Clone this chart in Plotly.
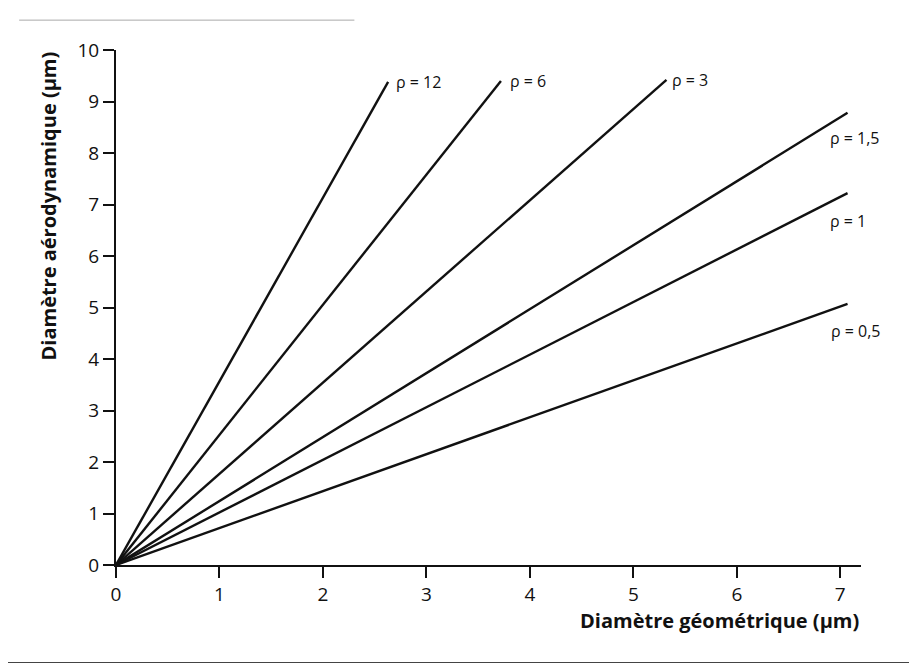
import plotly.graph_objects as go

# Data: each line runs from the origin to its end point
rho_labels = ["ρ = 12", "ρ = 6", "ρ = 3", "ρ = 1,5", "ρ = 1", "ρ = 0,5"]
x_start = [0, 0, 0, 0, 0, 0]
y_start = [0, 0, 0, 0, 0, 0]
x_end = [2.63, 3.72, 5.32, 7.07, 7.07, 7.07]
y_end = [9.38, 9.40, 9.42, 8.78, 7.22, 5.07]

x_ticks = [0, 1, 2, 3, 4, 5, 6, 7]
y_ticks = [0, 1, 2, 3, 4, 5, 6, 7, 8, 9, 10]

x_title = "Diamètre géométrique (µm)"
y_title = "Diamètre aérodynamique (µm)"

# label offsets (pixels) relative to each line end
label_xshift = [6, 7, 4, -20, -20, -19]
label_yshift = [0, 0, 0, -25, -28, -27]

FONT = "Open Sans"

fig = go.Figure()
for i in range(len(rho_labels)):
    fig.add_trace(go.Scatter(
        x=[x_start[i], x_end[i]], y=[y_start[i], y_end[i]],
        mode="lines", line=dict(color="#111111", width=2.4),
        showlegend=False, hoverinfo="skip"))
    fig.add_annotation(
        x=x_end[i], y=y_end[i], text=rho_labels[i], showarrow=False,
        xanchor="left", yanchor="middle",
        xshift=label_xshift[i], yshift=label_yshift[i],
        font=dict(family=FONT, size=16, color="#111111"))

fig.add_annotation(
    xref="paper", yref="paper", x=1, y=-0.107, text=x_title,
    showarrow=False, xanchor="right", yanchor="middle",
    font=dict(family=FONT, size=20, color="#111111", weight="bold"))
fig.add_annotation(
    xref="paper", yref="paper", x=0, y=1, xshift=-68, text=y_title,
    showarrow=False, xanchor="center", yanchor="top", textangle=-90,
    font=dict(family=FONT, size=20, color="#111111", weight="bold"))

# scan page edges
fig.add_shape(type="line", xref="paper", yref="paper",
              x0=-0.15, x1=1.09, y0=-0.19, y1=-0.19,
              line=dict(color="#444444", width=1.5))
fig.add_shape(type="line", xref="paper", yref="paper",
              x0=-0.13, x1=0.32, y0=1.058, y1=1.058,
              line=dict(color="#aaaaaa", width=1))

fig.update_xaxes(
    range=[0, 7.2], tickvals=x_ticks, showline=True, linecolor="#111111",
    linewidth=2, ticks="outside", ticklen=11, tickwidth=2, tickcolor="#111111",
    showgrid=False, zeroline=False,
    tickfont=dict(family=FONT, size=19, color="#111111"))
fig.update_yaxes(
    range=[0, 10], tickvals=y_ticks, showline=True, linecolor="#111111",
    linewidth=2, ticks="outside", ticklen=11, tickwidth=2, tickcolor="#111111",
    showgrid=False, zeroline=False,
    tickfont=dict(family=FONT, size=19, color="#111111"))

fig.update_layout(
    width=917, height=663,
    margin=dict(l=108, r=64, t=42, b=106),
    paper_bgcolor="white", plot_bgcolor="white")

fig.write_html("out.html")
